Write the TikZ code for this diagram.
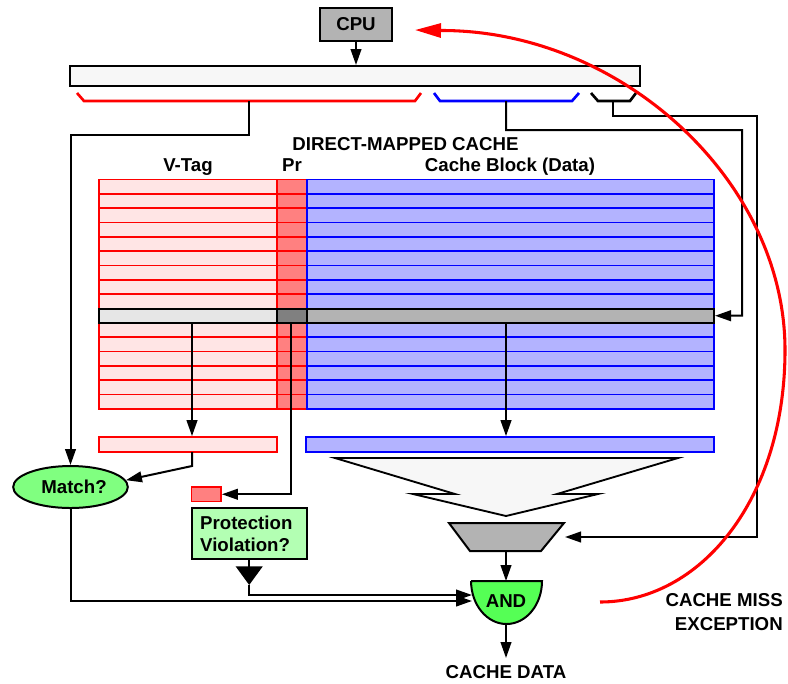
\documentclass[tikz,border=0pt]{standalone}
\usepackage{fontspec}
\setmainfont{Liberation Sans}
\usetikzlibrary{arrows.meta,fit,shapes.geometric}
\definecolor{tagfill}{HTML}{FFE5E5}
\definecolor{prfill}{HTML}{FF8080}
\definecolor{datafill}{HTML}{B3B3FF}
\definecolor{selgray}{HTML}{E6E6E6}
\definecolor{selpr}{HTML}{808080}
\definecolor{seldata}{HTML}{B3B3B3}
\definecolor{barfill}{HTML}{F7F7F7}
\definecolor{matchgreen}{HTML}{80FF80}
\definecolor{protgreen}{HTML}{B3FFB3}
\definecolor{andgreen}{HTML}{55FF55}
\definecolor{myred}{HTML}{FF0000}
\definecolor{myblue}{HTML}{0000FF}
\begin{document}
\begin{tikzpicture}[x=0.75pt,y=-0.75pt,
  font=\bfseries\fontsize{14}{16.3}\selectfont,
  conn/.style={draw=black, line width=1.5pt},
  arr/.style={conn, -{Triangle[length=12pt,width=8pt]}},
  boxnode/.style={inner sep=0pt, draw=black, line width=1.5pt},
  tagcell/.style={fill=tagfill, draw=myred, line width=1.2pt},
  prcell/.style={fill=prfill, draw=myred, line width=1.2pt},
  datacell/.style={fill=datafill, draw=myblue, line width=1.2pt},
  bracket/.style={line width=2pt},
  lbl/.style={inner sep=0pt, anchor=base}
]
\useasboundingbox (0,0) rectangle (788,683);

% CPU and address bar
\node[fit={(320,8) (392,41)}, boxnode, fill=seldata] (cpu) {};
\node[inner sep=0pt] (cputxt) at (356,24.5) {CPU};
\node[fit={(70,66) (640,86)}, boxnode, fill=barfill] (addr) {};
\draw[arr] (cpu.south) -- (cpu.south |- addr.north);

% brackets
\draw[bracket, myred] (77,93) -- (84,101) -- (415,101) -- (421,93);
\draw[bracket, myblue] (434,93) -- (440,101) -- (572,101) -- (579,93);
\draw[bracket, black] (591,93) -- (598,101) -- (630,101) -- (636,93);
\coordinate (redstem) at (249,101);
\coordinate (bluestem) at (506,101);
\coordinate (blackstem) at (613,101);

% titles
\node[lbl] (title) at (405.5,150) {DIRECT-MAPPED CACHE};
\node[lbl] (vtaglbl) at (188,171.5) {V-Tag};
\node[lbl] (prlbl) at (292,171.5) {Pr};
\node[lbl] (datalbl) at (510,171.5) {Cache Block (Data)};

% cache table
\foreach \i in {0,...,15}{
  \pgfmathsetmacro{\yt}{179.5+\i*14.34}
  \pgfmathsetmacro{\yb}{\yt+14.34}
  \ifnum\i=9 \else
    \draw[tagcell] (99,\yt) rectangle (277,\yb);
    \draw[prcell] (277,\yt) rectangle (307,\yb);
    \draw[datacell] (307,\yt) rectangle (714,\yb);
  \fi
}
\node[fit={(99,308.56) (277,322.9)}, boxnode, fill=selgray] (seltag) {};
\node[fit={(277,308.56) (307,322.9)}, boxnode, fill=selpr] (selpr) {};
\node[fit={(307,308.56) (714,322.9)}, boxnode, fill=seldata] (seldata) {};

% registers
\node[fit={(99,437) (277,452)}, inner sep=0pt, fill=tagfill, draw=myred, line width=1.3pt] (tagreg) {};
\node[fit={(306,437) (714,452)}, inner sep=0pt, fill=datafill, draw=myblue, line width=1.3pt] (datareg) {};
\node[fit={(191.5,487) (221,501.5)}, inner sep=0pt, fill=prfill, draw=myred, line width=1.3pt] (prbox) {};

% match and protection
\node[ellipse, draw=black, fill=matchgreen, line width=1.5pt, minimum width=86pt, minimum height=31.5pt, inner sep=0pt] (match) at (70.5,487) {};
\node[inner sep=0pt] (matchtxt) at (74,487) {Match?};
\node[fit={(191.7,508) (306.7,559)}, boxnode, fill=protgreen] (protbox) {};
\node[inner sep=0pt, align=left] (prottxt) at (246.3,533.5) {Protection\\Violation?};

% funnel and mux
\filldraw[fill=barfill, line width=1.4pt] (335,458) -- (678,458) -- (557,494) -- (598,494) -- (506,516) -- (413,494) -- (455,494) -- cycle;
\filldraw[fill=seldata, line width=1.5pt] (449,523) -- (564,523) -- (541,551) -- (470,551) -- cycle;
\coordinate (muxbot) at (506,551);
\coordinate (muxin) at (565,537);

% AND gate
\filldraw[fill=andgreen, line width=1.5pt] (471,581) -- (542,581) arc[start angle=0, end angle=-180, x radius=26.6pt, y radius=32.25pt] -- cycle;
\node (andlbl) at (506,601) {AND};
\coordinate (andtop) at (506,581);
\coordinate (andbot) at (506,624);
\coordinate (andinA) at (472,595);
\coordinate (andinB) at (472,601);
\coordinate (dataout) at (506,658);

% connectors
\coordinate (r1) at (249,135);
\draw[arr] (redstem) -- (r1) -| (match.north);
\coordinate (b1) at (506,130);
\coordinate (b2) at (742,315.7);
\draw[arr] (bluestem) -- (b1) -| (b2) -- (seldata.east);
\coordinate (k1) at (613,116);
\coordinate (k2) at (757,537);
\draw[arr] (blackstem) -- (k1) -| (k2) -- (muxin);

\coordinate (tagdrop) at (192,322.9);
\draw[arr] (tagdrop) -- (tagdrop |- tagreg.north);
\coordinate (prdrop) at (291,322.9);
\draw[arr] (prdrop) |- (prbox.east);
\coordinate (datadrop) at (506,322.9);
\draw[arr] (datadrop) -- (datadrop |- datareg.north);

\coordinate (tagout) at (192,452);
\coordinate (tagbend) at (192,466);
\draw[arr] (tagout) -- (tagbend) -- (match.7);

\draw[arr] (match.south) |- (andinB);
\coordinate (pvtip) at (249.2,585);
\draw[conn, -{Triangle[length=14pt,width=20pt]}] (protbox.south) -- (pvtip);
\draw[arr] (pvtip) |- (andinA);

\draw[arr] (muxbot) -- (andtop);
\draw[arr] (andbot) -- (dataout);

% output labels
\node[lbl] (cachedata) at (506,678) {CACHE DATA};
\node[inner sep=0pt, anchor=base east] (miss1) at (783,606.7) {CACHE MISS};
\node[inner sep=0pt, anchor=base east] (miss2) at (783,630) {EXCEPTION};

% cache miss exception curve
\coordinate (cpuret) at (415,30);
\coordinate (missstart) at (600,602);
\draw[myred, line width=2.3pt, {Triangle[length=19.5pt,width=10.5pt]}-] (cpuret) -- (441,30.5) .. controls (620,30) and (785,180) .. (785,350) .. controls (785,500) and (700,602) .. (missstart);
\end{tikzpicture}
\end{document}
